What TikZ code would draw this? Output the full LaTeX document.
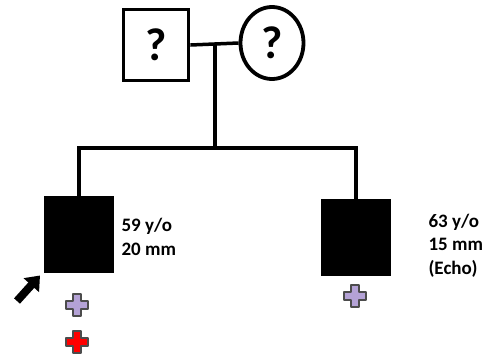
\documentclass[tikz,border=0pt]{standalone}
\usepackage{fontspec}
\setmainfont{Carlito}
\usepackage{tikz}
\usetikzlibrary{arrows.meta,shapes.geometric}
\definecolor{markP}{HTML}{B4A2D6}
\definecolor{markR}{HTML}{FF0000}
\tikzset{
  person/.style={draw,line width=3.8pt,minimum width=65pt,minimum height=71pt,inner sep=0pt,
    font=\fontsize{46}{46}\selectfont\bfseries},
  affected/.style={fill=black,draw=black,line width=1pt,minimum width=69pt,minimum height=76pt,inner sep=0pt},
  tie/.style={line width=3.5pt},
  info/.style={anchor=west,align=left,font=\fontsize{19}{23.5}\selectfont\bfseries}
}
% plus sign marker: #1 = colour, (#2,#3) = centre
\newcommand{\marker}[3]{%
  \filldraw[fill=#1,draw=black!70,line width=1.2pt,line join=round]
    (#2-4,#3-11) -- (#2+4,#3-11) -- (#2+4,#3-4) -- (#2+11,#3-4) -- (#2+11,#3+4)
    -- (#2+4,#3+4) -- (#2+4,#3+11) -- (#2-4,#3+11) -- (#2-4,#3+4) -- (#2-11,#3+4)
    -- (#2-11,#3-4) -- (#2-4,#3-4) -- cycle;
}

\begin{document}
\begin{tikzpicture}[x=1pt,y=-1pt]
\useasboundingbox (0,0) rectangle (491,360);
% parents
\node[person] (father) at (156,45) {?};
\node[person,ellipse,minimum width=63pt,minimum height=72pt] (mother) at (272,43) {?};
\draw[tie] (father.east) -- (mother.west);
\coordinate (mate) at (215,43);
\coordinate (sib) at (215,148);
\draw[tie] (mate) -- (sib);
% children
\node[affected] (proband) at (79,234) {};
\node[affected] (brother) at (356,237) {};
\coordinate (sibL) at (proband.north |- sib);
\coordinate (sibR) at (brother.north |- sib);
\draw[tie] ([xshift=-1.75pt]sibL) -- ([xshift=1.75pt]sibR);
\draw[tie] (sibL) -- (proband.north);
\draw[tie] (sibR) -- (brother.north);
\node[info] (probandtxt) at (118,237) {59 y/o\\20 mm};
\node[info] (brothertxt) at (425,245.5) {63 y/o\\15 mm\\(Echo)};
% proband arrow
\coordinate (tail) at (17,301);
\draw[line width=8pt,-{Triangle[length=13pt,width=20pt]}] (tail) -- ([shift={(-4pt,-3pt)}]proband.south west);
% markers
\marker{markP}{77}{305}
\marker{markR}{77}{342}
\marker{markP}{355}{296}
\end{tikzpicture}
\end{document}
